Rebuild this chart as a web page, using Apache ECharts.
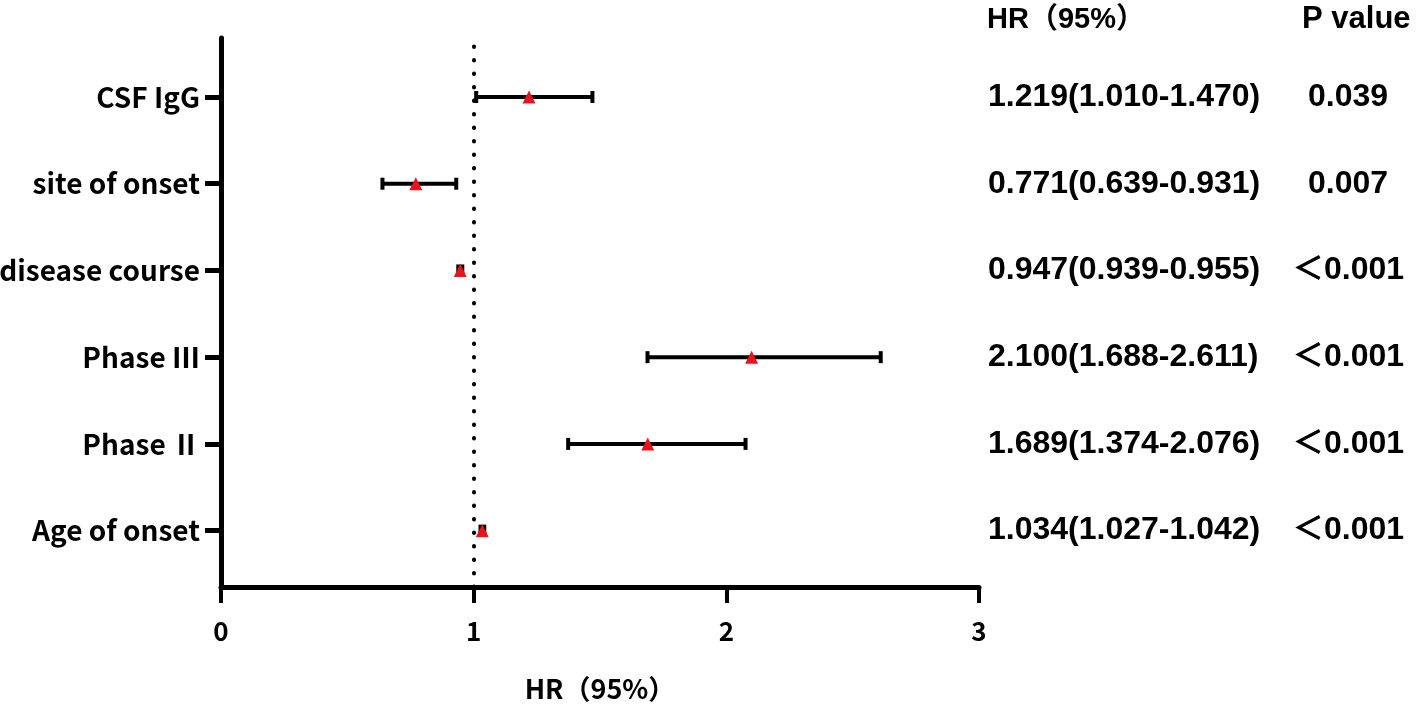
<!DOCTYPE html>
<html>
<head>
<meta charset="utf-8">
<script src="https://cdn.jsdelivr.net/npm/echarts@6/dist/echarts.min.js"></script>
<style>
  html, body { margin: 0; background: #fff; }
  #chart { width: 1418px; height: 710px; }
</style>
</head>
<body>
<div id="chart"></div>
<script>
// rows listed bottom to top
const factors = ['Age of onset', 'Phase Ⅱ', 'Phase Ⅲ', 'disease course', 'site of onset', 'CSF IgG']
const hr = [1.034, 1.689, 2.100, 0.947, 0.771, 1.219]
const lower = [1.027, 1.374, 1.688, 0.939, 0.639, 1.010]
const upper = [1.042, 2.076, 2.611, 0.955, 0.931, 1.470]
const pValues = ['＜0.001', '＜0.001', '＜0.001', '＜0.001', '0.007', '0.039']
const xTicks = [0, 1, 2, 3]
const refLine = 1

const rows = factors.map((f, i) => i + 1)
const hrText = hr.map((v, i) => v.toFixed(3) + '(' + lower[i].toFixed(3) + '-' + upper[i].toFixed(3) + ')')

const narrowFont = '"Noto Sans CJK SC", "Noto Sans", sans-serif'
const arialFont = '"Liberation Sans", Arial, "Noto Sans CJK SC", sans-serif'

const chart = echarts.init(document.getElementById('chart'))

// text columns on the right, placed on hidden y axes
const sideAxis = (texts, offset, margin, align) => ({
  type: 'value',
  position: 'right',
  offset: offset,
  min: 0.35,
  max: 6.68,
  axisLine: { show: false },
  axisTick: { show: false },
  splitLine: { show: false },
  axisLabel: {
    customValues: rows,
    margin: margin,
    align: align,
    color: '#000',
    fontFamily: arialFont,
    fontWeight: 'bold',
    fontSize: 32,
    formatter: v => texts[Math.round(v) - 1]
  }
})

chart.setOption({
  animation: false,
  backgroundColor: '#fff',
  grid: { left: 221, right: 439, top: 38, bottom: 123, outerBoundsMode: 'none', containLabel: false },
  xAxis: {
    type: 'value',
    min: xTicks[0],
    max: xTicks[xTicks.length - 1],
    interval: 1,
    name: 'HR（95%）',
    nameLocation: 'middle',
    nameGap: 88,
    nameTextStyle: { color: '#000', fontFamily: narrowFont, fontWeight: 'bold', fontSize: 27 },
    axisLine: { lineStyle: { color: '#000', width: 5 } },
    axisTick: { length: 16, lineStyle: { color: '#000', width: 4 } },
    splitLine: { show: false },
    axisLabel: { margin: 31, color: '#000', fontFamily: narrowFont, fontWeight: 'bold', fontSize: 26 }
  },
  yAxis: [
    {
      type: 'value',
      min: 0.35,
      max: 6.68,
      axisLine: { show: true, lineStyle: { color: '#000', width: 5 } },
      axisTick: { show: true, customValues: rows, length: 16, lineStyle: { color: '#000', width: 5 } },
      splitLine: { show: false },
      axisLabel: {
        customValues: rows,
        margin: 21,
        color: '#000',
        fontFamily: narrowFont,
        fontWeight: 'bold',
        fontSize: 28,
        formatter: v => factors[Math.round(v) - 1]
      }
    },
    sideAxis(hrText, 0, 9, 'left'),
    sideAxis(pValues, 324, 45, 'center')
  ],
  graphic: [
    {
      type: 'text', left: 987, top: 5,
      style: { text: 'HR（95%）', fill: '#000', fontFamily: arialFont, fontWeight: 'bold', fontSize: 29 }
    },
    {
      type: 'text', left: 1302, top: 4,
      style: { text: 'P value', fill: '#000', fontFamily: arialFont, fontWeight: 'bold', fontSize: 31 }
    }
  ],
  series: [
    {
      type: 'custom',
      silent: true,
      encode: { x: [0, 1], y: 2 },
      data: rows.map((r, i) => [lower[i], upper[i], r]),
      renderItem: (params, api) => {
        const y = api.value(2)
        const lo = api.coord([api.value(0), y])
        const hi = api.coord([api.value(1), y])
        const cap = 6
        const style = { stroke: '#000', lineWidth: 4 }
        return {
          type: 'group',
          children: [
            { type: 'line', shape: { x1: lo[0], y1: lo[1], x2: hi[0], y2: hi[1] }, style: style },
            { type: 'line', shape: { x1: lo[0], y1: lo[1] - cap, x2: lo[0], y2: lo[1] + cap }, style: style },
            { type: 'line', shape: { x1: hi[0], y1: hi[1] - cap, x2: hi[0], y2: hi[1] + cap }, style: style }
          ]
        }
      },
      markLine: {
        silent: true,
        symbol: 'none',
        label: { show: false },
        lineStyle: { color: '#000', width: 4, type: [0.5, 13], cap: 'round' },
        data: [{ xAxis: refLine }]
      }
    },
    {
      type: 'scatter',
      silent: true,
      symbol: 'triangle',
      symbolSize: 13,
      itemStyle: { color: '#e8141b', opacity: 1 },
      data: rows.map((r, i) => [hr[i], r])
    }
  ]
})
</script>
</body>
</html>
